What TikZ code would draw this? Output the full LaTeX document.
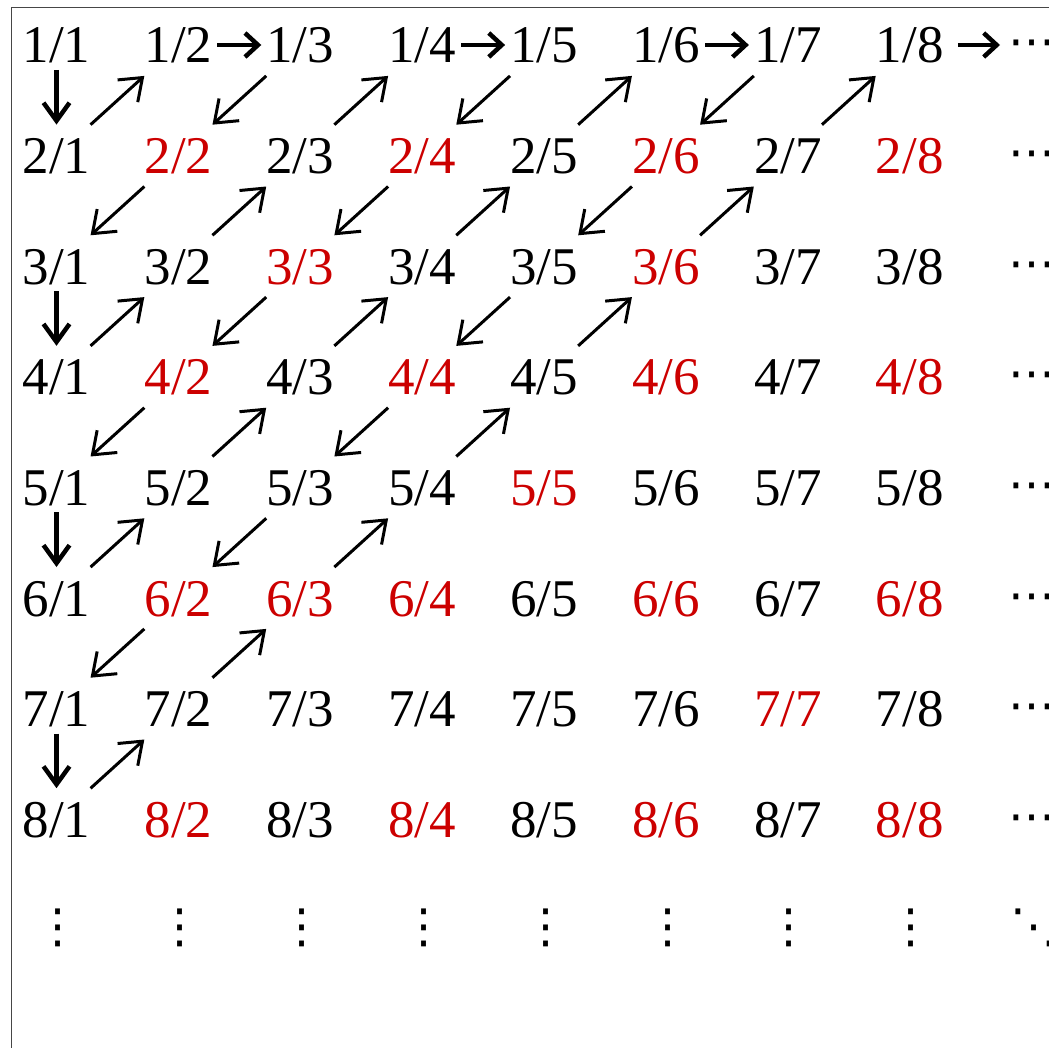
\documentclass[tikz,border=0pt]{standalone}
\usepackage{fontspec}
\setmainfont{Liberation Serif}
\newfontfamily\symfont{DejaVu Sans}
\usepackage{tikz}
\usetikzlibrary{arrows.meta}
\definecolor{redund}{RGB}{204,0,0}
\definecolor{framegray}{RGB}{70,70,70}
\newcommand{\cellfont}{\fontsize{53}{60}\selectfont}
\newcommand{\morefont}{\fontsize{47}{52}\selectfont\symfont}
\tikzset{
  cell/.style={font=\cellfont, inner sep=0pt, text height=36pt, text depth=0pt},
  dup/.style={cell, text=redund},
  more/.style={font=\morefont, inner sep=0pt, text height=26pt, text depth=0pt},
  darr/.style={-{Straight Barb[length=20pt,width=30pt]}, line width=3pt, shorten <=46pt, shorten >=46pt},
  harr/.style={-{Straight Barb[length=13pt,width=24pt]}, line width=4.5pt, shorten <=39pt, shorten >=39pt},
  varr/.style={-{Straight Barb[length=18pt,width=26pt]}, line width=4.5pt, shorten <=25pt, shorten >=31pt},
}
\begin{document}
\begin{tikzpicture}[x=1pt,y=-1pt]
  \useasboundingbox (0,0) rectangle (1049,1048);
  \draw[framegray, line width=1.5pt] (11.5,1048) -- (11.5,7.5) -- (1049,7.5);
  % the grid of fractions, red where numerator and denominator share a factor
  \foreach \r in {1,...,8}{
    \foreach \c in {1,...,8}{
      \pgfmathtruncatemacro\g{gcd(\r,\c)}
      \ifnum\g=1 \def\sty{cell}\else\def\sty{dup}\fi
      \node[\sty] (n\r\c) at ({56.5+121.9*(\c-1)},{45+110.6*(\r-1)}) {\r/\c};
    }
    \node[more] (n\r9) at (1032,{45+110.6*(\r-1)}) {⋯};
  }
  \foreach \c in {1,...,8}
    \node[more] (n9\c) at ({58+121.9*(\c-1)},929.5) {⋮};
  \node[more] (n99) at (1034,929.5) {⋱};
  % the zigzag path
  \foreach \a/\b in {11/21, 31/41, 51/61, 71/81}
    \draw[varr] (n\a.center) -- (n\b.center);
  \foreach \a/\b in {12/13, 14/15, 16/17}
    \draw[harr] (n\a.center) -- (n\b.center);
  \draw[harr, shorten <=48pt, shorten >=32pt] (n18.center) -- (n19.center);
  \foreach \a/\b in {21/12, 13/22, 22/31, 41/32, 32/23, 23/14, 15/24, 24/33, 33/42, 42/51,
                     61/52, 52/43, 43/34, 34/25, 25/16, 17/26, 26/35, 35/44, 44/53, 53/62, 62/71,
                     81/72, 72/63, 63/54, 54/45, 45/36, 36/27, 27/18}
    \draw[darr] (n\a.center) -- (n\b.center);
\end{tikzpicture}
\end{document}
